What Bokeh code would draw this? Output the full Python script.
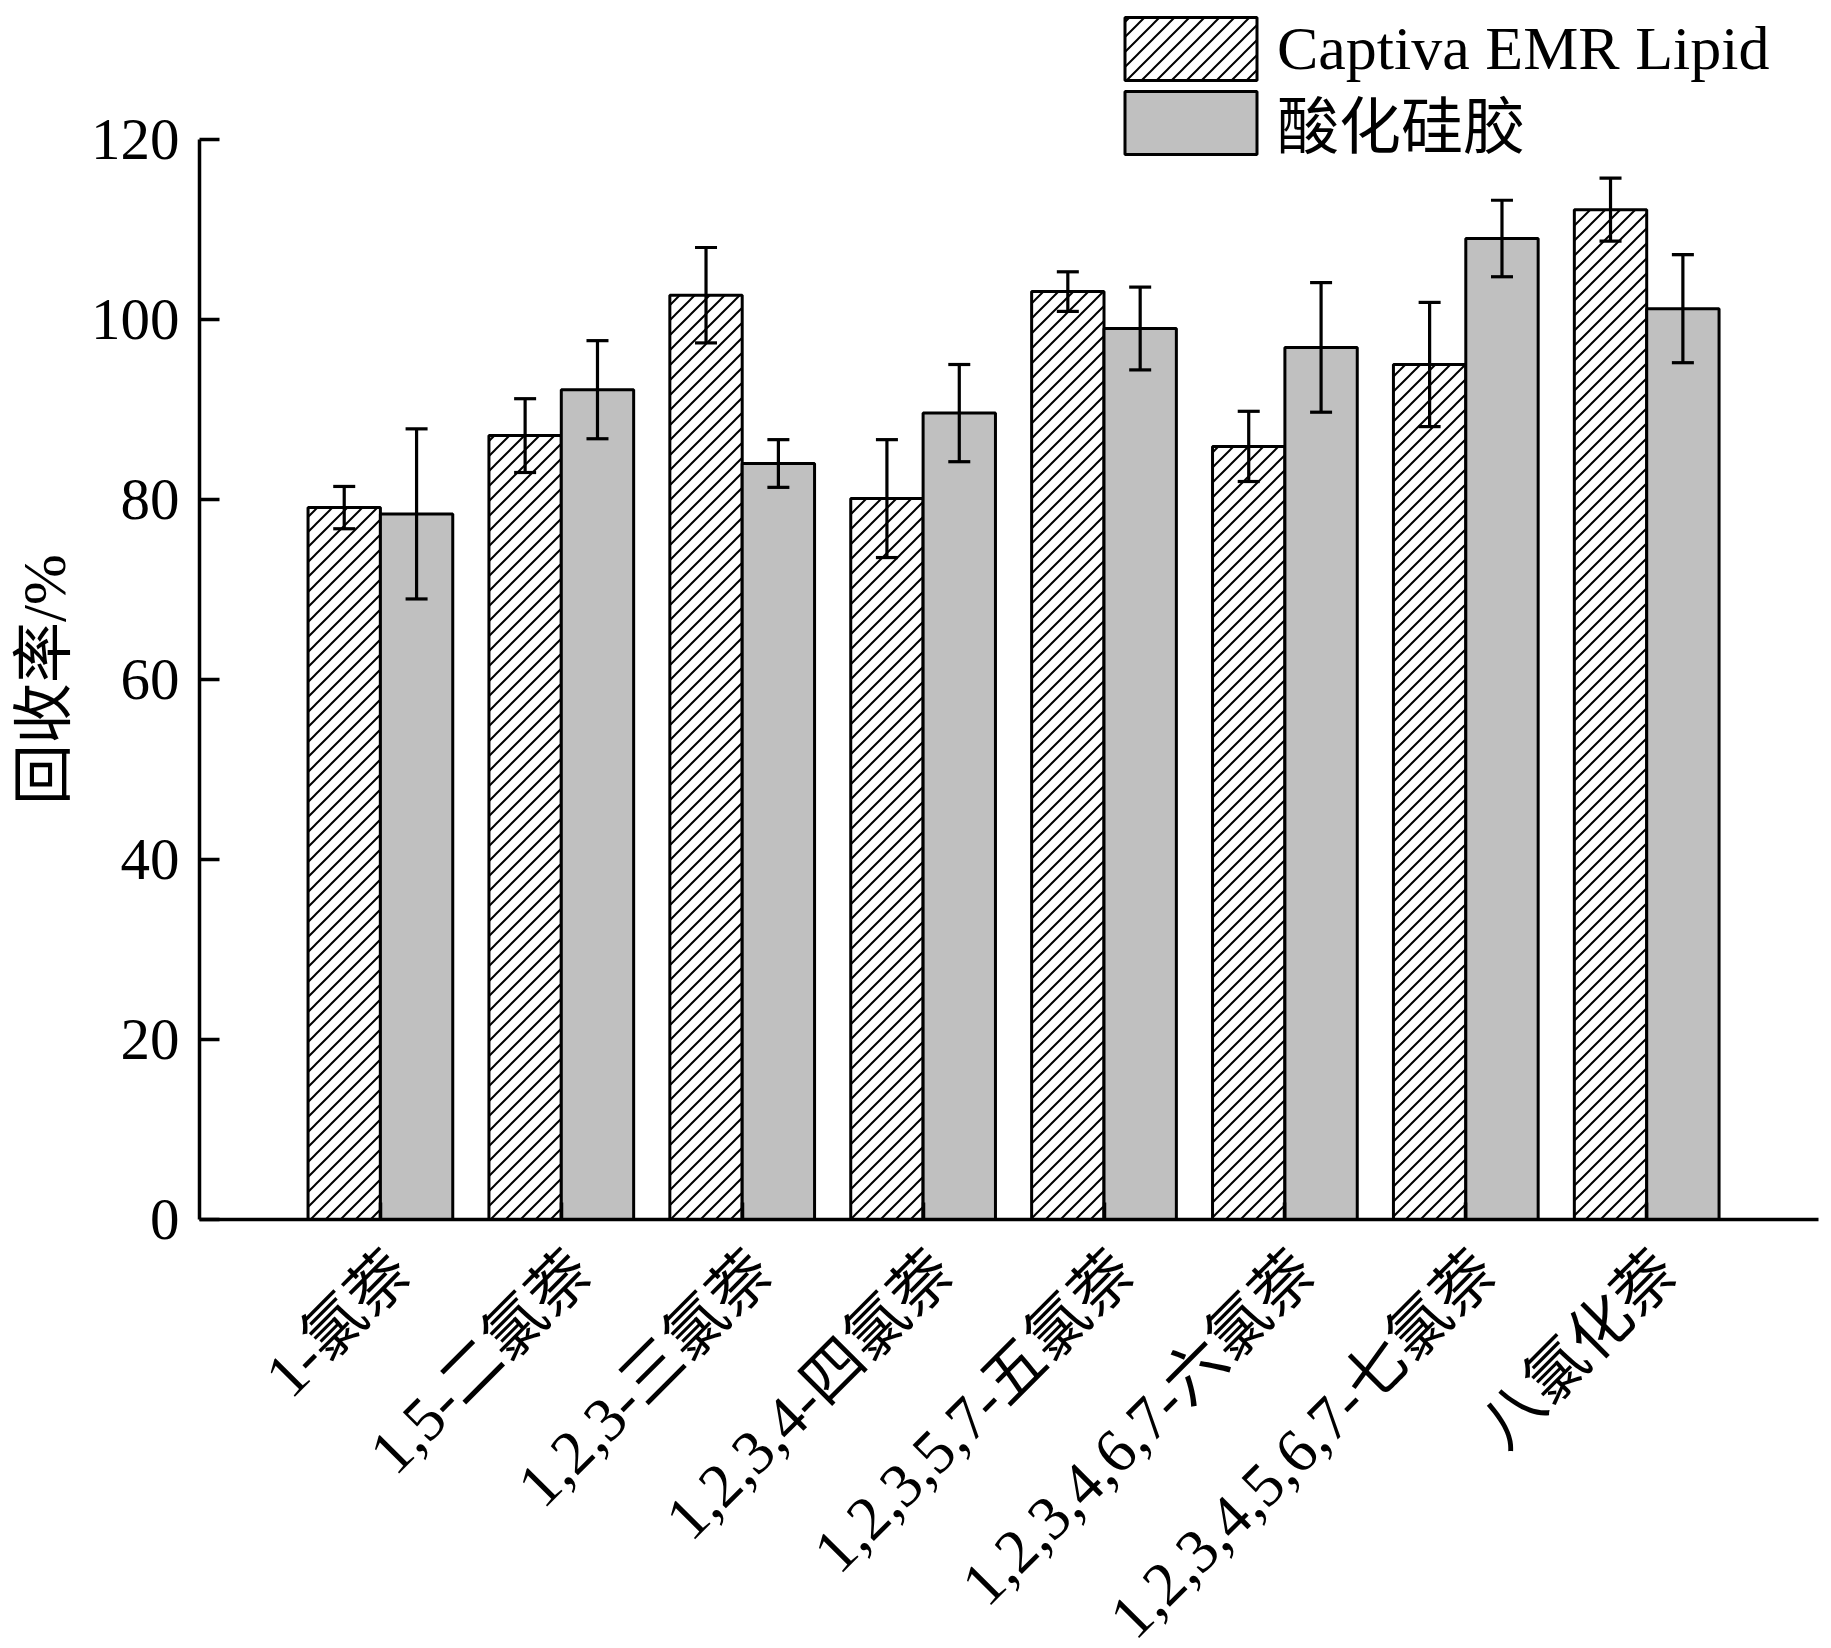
import math
from bokeh.plotting import figure
from bokeh.models import (Range1d, FixedTicker, LinearAxis, Whisker, TeeHead,
                          ColumnDataSource, Legend, LegendItem, Label, CanvasTexture)
from bokeh.core.properties import value
from bokeh.embed import file_html
from bokeh.resources import INLINE

# ---- data ----
categories = ["1-氯萘", "1,5-二氯萘", "1,2,3-三氯萘", "1,2,3,4-四氯萘",
              "1,2,3,5,7-五氯萘", "1,2,3,4,6,7-六氯萘", "1,2,3,4,5,6,7-七氯萘", "八氯化萘"]
series_names = ["Captiva EMR Lipid", "酸化硅胶"]
emr_values = [79.1, 87.1, 102.7, 80.1, 103.1, 85.9, 95.0, 112.2]
emr_errors = [2.35, 4.1, 5.3, 6.55, 2.2, 3.9, 6.9, 3.5]
silica_values = [78.4, 92.2, 84.0, 89.6, 99.0, 96.9, 109.0, 101.2]
silica_errors = [9.45, 5.45, 2.65, 5.4, 4.6, 7.2, 4.25, 6.0]
y_ticks = [0, 20, 40, 60, 80, 100, 120]
y_label = "回收率/%"

FONT = "Liberation Serif, Noto Sans CJK SC"
BW = 0.4

# canvas geometry (pixels)
W, H = 1825, 1646
X0_PX, Y0_PX = 199, 1219        # where (0, 0) lies
PX_PER_X, PX_PER_Y = 180.9, 9.0

xc = list(range(1, len(categories) + 1))
x_emr = [x - BW / 2 for x in xc]
x_sil = [x + BW / 2 for x in xc]

src_emr = ColumnDataSource(dict(x=x_emr, top=emr_values,
                                upper=[v + e for v, e in zip(emr_values, emr_errors)],
                                lower=[v - e for v, e in zip(emr_values, emr_errors)]))
src_sil = ColumnDataSource(dict(x=x_sil, top=silica_values,
                                upper=[v + e for v, e in zip(silica_values, silica_errors)],
                                lower=[v - e for v, e in zip(silica_values, silica_errors)]))

x_range = Range1d(-X0_PX / PX_PER_X, (W - X0_PX) / PX_PER_X)
y_range = Range1d(-(H - Y0_PX) / PX_PER_Y, Y0_PX / PX_PER_Y)
x_end = 8.95

p = figure(width=W, height=H, output_backend="svg", toolbar_location=None,
           x_range=x_range, y_range=y_range,
           min_border=0, x_axis_type=None, y_axis_type=None)
p.grid.visible = False
p.outline_line_color = None
p.background_fill_color = "white"
p.border_fill_color = "white"

# 45-degree hatch tile (15 px, 2 px lines)
diag = CanvasTexture(code="""
const c = ctx.canvas;
c.width = 15; c.height = 15;
ctx.setTransform(1, 0, 0, 1, 0, 0);
ctx.clearRect(0, 0, 15, 15);
ctx.strokeStyle = "black";
ctx.lineWidth = 2;
ctx.beginPath();
ctx.moveTo(0, 15); ctx.lineTo(15, 0);
ctx.moveTo(-7.5, 7.5); ctx.lineTo(7.5, -7.5);
ctx.moveTo(7.5, 22.5); ctx.lineTo(22.5, 7.5);
ctx.stroke();
""")

r_emr = p.vbar(x="x", top="top", width=BW, bottom=0, source=src_emr,
               fill_color="white", line_color="black", line_width=3,
               hatch_pattern=value("diag45"), hatch_extra={"diag45": diag},
               hatch_color="black", hatch_weight=2, hatch_scale=15)
r_sil = p.vbar(x="x", top="top", width=BW, bottom=0, source=src_sil,
               fill_color="#c0c0c0", line_color="black", line_width=3)

for src in (src_emr, src_sil):
    w = Whisker(base="x", upper="upper", lower="lower", source=src,
                line_color="black", line_width=3.2, level="overlay",
                upper_head=TeeHead(size=22, line_width=3.2, line_color="black"),
                lower_head=TeeHead(size=22, line_width=3.2, line_color="black"))
    p.add_layout(w)

# y axis, fixed at x = 0
yax = LinearAxis(ticker=FixedTicker(ticks=y_ticks), bounds=(0, 120), fixed_location=0)
yax.major_label_text_font = FONT
yax.major_label_text_font_size = "59px"
yax.major_label_text_color = "black"
yax.major_label_standoff = 20
yax.major_tick_in = 20
yax.major_tick_out = 0
yax.minor_tick_in = 0
yax.minor_tick_out = 0
yax.axis_line_width = 3.5
yax.major_tick_line_width = 3.5
p.add_layout(yax, "left")

# x axis, fixed at y = 0 (ticks at group centres)
xax = LinearAxis(ticker=FixedTicker(ticks=xc), bounds=(0, x_end), fixed_location=0)
xax.major_label_overrides = {x: "" for x in xc}
xax.major_label_text_font_size = "1px"
xax.major_label_standoff = 0
xax.major_tick_in = 17
xax.major_tick_out = 0
xax.minor_tick_in = 0
xax.minor_tick_out = 0
xax.axis_line_width = 3.5
xax.major_tick_line_width = 3.5
p.add_layout(xax, "below")

# y axis title
p.add_layout(Label(x=-155 / PX_PER_X, y=60, text=y_label, angle=math.pi / 2,
                   text_align="center", text_baseline="middle",
                   text_font=FONT, text_font_size="61px", text_color="black"))

# rotated category names
for x, c in zip(xc, categories):
    p.add_layout(Label(x=x + 0.11, y=-42 / PX_PER_Y, text=c,
                       angle=math.pi / 4, text_align="right", text_baseline="middle",
                       text_font=FONT, text_font_size="62px", text_color="black"))

# legend: one entry per legend box so the two rows sit close together
legend_bottoms = [88, 167]
for name, rend, bottom in zip(series_names, [r_emr, r_sil], legend_bottoms):
    lg = Legend(items=[LegendItem(label=name, renderers=[rend])],
                location=(1108, H - bottom), orientation="vertical",
                glyph_width=165, glyph_height=79, label_height=79, spacing=0,
                label_standoff=4, padding=0, margin=0,
                border_line_color=None, background_fill_alpha=0,
                label_text_font=FONT, label_text_font_size="62px",
                label_text_color="black")
    p.add_layout(lg, "center")

open("out.html", "w").write(file_html(p, INLINE))
